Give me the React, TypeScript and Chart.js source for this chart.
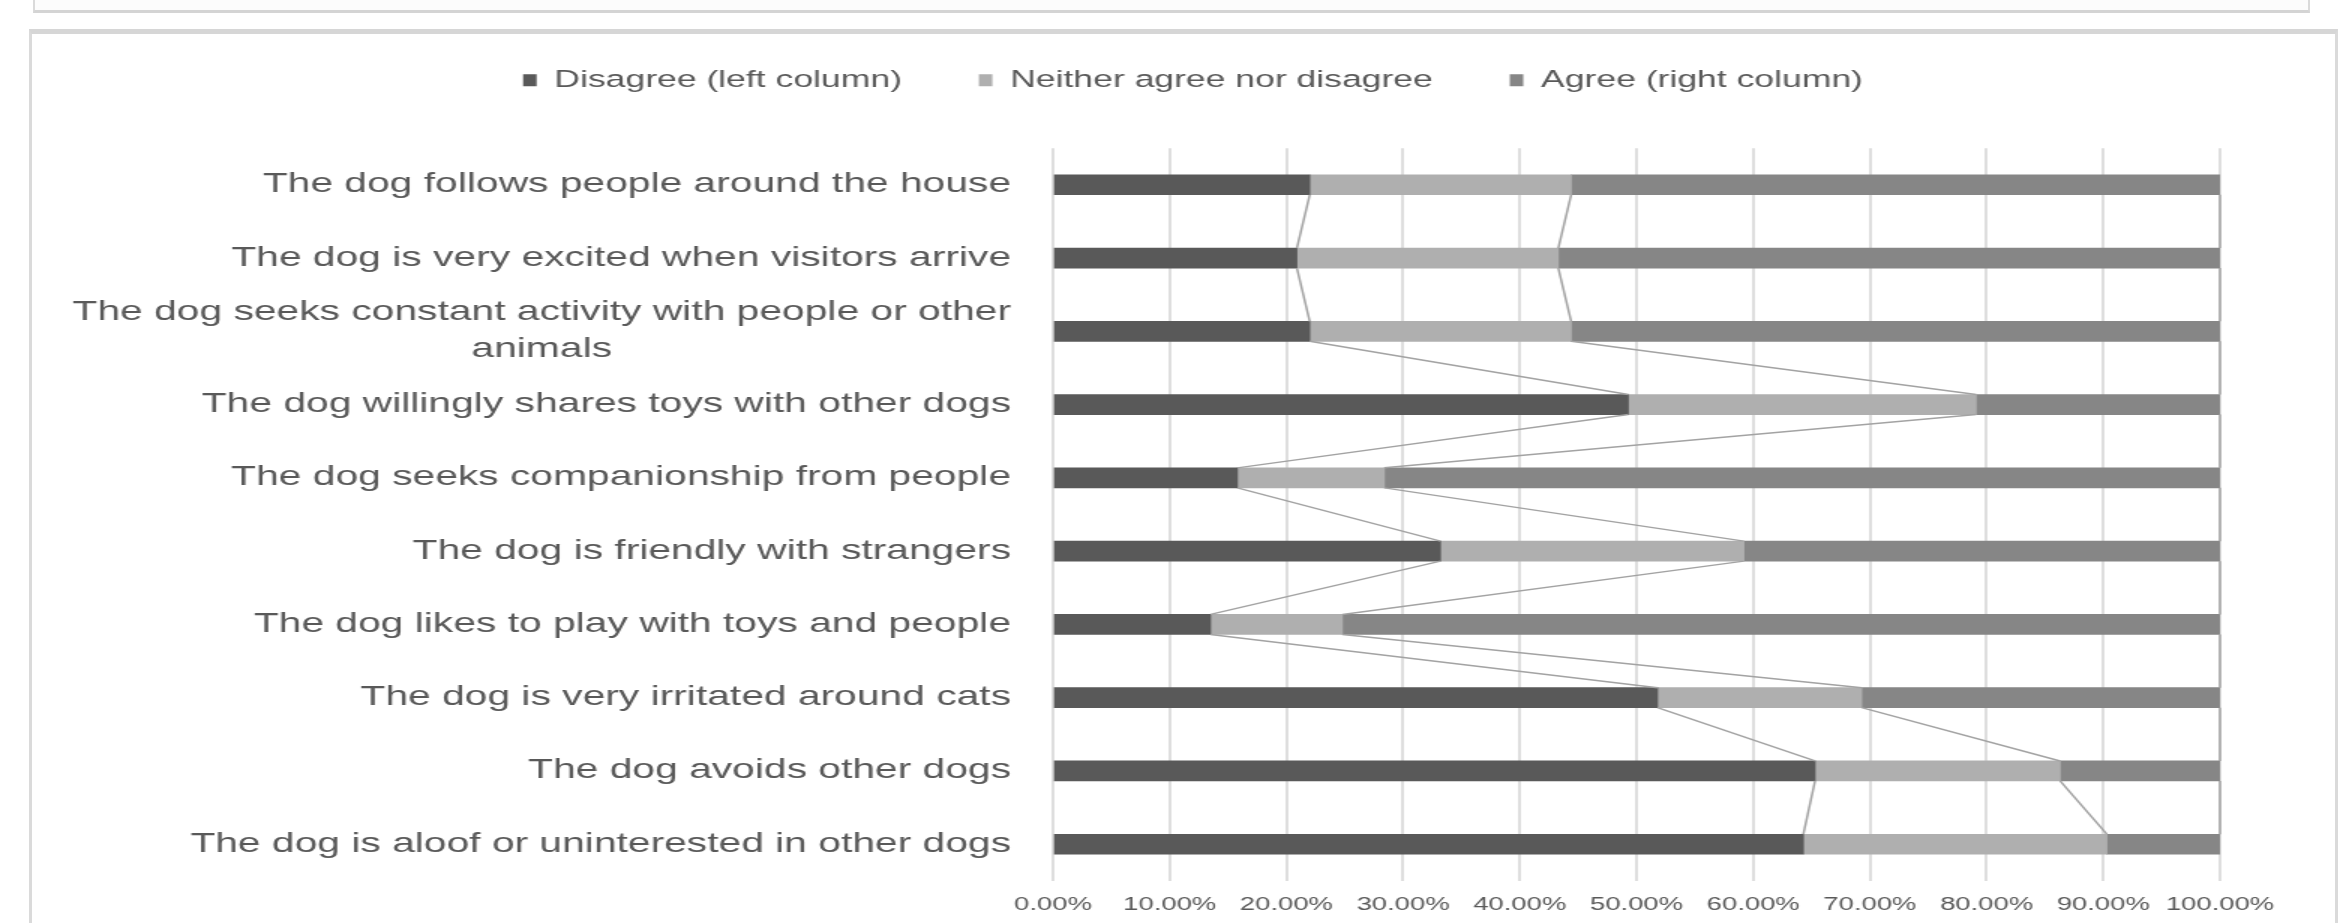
import React, { useEffect, useRef } from 'react';
import { Chart, registerables } from 'chart.js';

Chart.register(...registerables);

// ---- data ----
const categories: (string | string[])[] = [
  'The dog follows people around the house',
  'The dog is very excited when visitors arrive',
  ['The dog seeks constant activity with people or other', 'animals'],
  'The dog willingly shares toys with other dogs',
  'The dog seeks companionship from people',
  'The dog is friendly with strangers',
  'The dog likes to play with toys and people',
  'The dog is very irritated around cats',
  'The dog avoids other dogs',
  'The dog is aloof or uninterested in other dogs',
];

const seriesNames = ['Disagree (left column)', 'Neither agree nor disagree', 'Agree (right column)'];

const disagree = [22.0, 20.9, 22.0, 49.3, 15.8, 33.2, 13.5, 51.8, 65.3, 64.3];
const neither = [22.4, 22.4, 22.4, 29.8, 12.6, 26.0, 11.3, 17.5, 21.0, 26.0];
const agree = [55.6, 56.7, 55.6, 20.9, 71.6, 40.8, 75.2, 30.7, 13.7, 9.7];

const xTickLabels = ['0.00%', '10.00%', '20.00%', '30.00%', '40.00%', '50.00%', '60.00%', '70.00%', '80.00%', '90.00%', '100.00%'];

const seriesColors = ['#595959', '#afafaf', '#868686'];

// ---- layout / style constants ----
const SX = 1.5; // horizontal stretch of the canvas bitmap
const CSS_W = 2340;
const CSS_H = 923;
const CANVAS_H = 934;
const CANVAS_W = Math.round(CSS_W / SX);
const FONT = '"Liberation Sans", Arial, sans-serif';
const TEXT_COLOR = '#595959';
const LABEL_SIZE = 27.2;
const LABEL_LINE_H = 37;
const LABEL_GAP = 28;

const categoryLabelPlugin = {
  id: 'categoryLabels',
  afterDraw(chart: any) {
    const ys = chart.scales.y;
    const area = chart.chartArea;
    const ctx = chart.ctx;
    ctx.save();
    ctx.font = `${LABEL_SIZE}px ${FONT}`;
    ctx.fillStyle = TEXT_COLOR;
    ctx.textAlign = 'center';
    ctx.textBaseline = 'middle';
    categories.forEach((c, i) => {
      const lines = Array.isArray(c) ? c : [c];
      const w = Math.max(...lines.map((l) => ctx.measureText(l).width));
      const cx = area.left - LABEL_GAP - w / 2;
      const y = ys.getPixelForValue(i);
      lines.forEach((l, j) => {
        ctx.fillText(l, cx, y + (j - (lines.length - 1) / 2) * LABEL_LINE_H);
      });
    });
    ctx.restore();
  },
};

const seriesLinePlugin = {
  id: 'seriesLines',
  afterDatasetsDraw(chart: any) {
    const ctx = chart.ctx;
    ctx.save();
    ctx.strokeStyle = '#a3a3a3';
    ctx.lineWidth = 1.5;
    for (let d = 0; d < chart.data.datasets.length; d++) {
      const meta = chart.getDatasetMeta(d);
      for (let i = 0; i < meta.data.length - 1; i++) {
        const a = meta.data[i];
        const b = meta.data[i + 1];
        ctx.beginPath();
        ctx.moveTo(a.x, a.y + a.height / 2);
        ctx.lineTo(b.x, b.y - b.height / 2);
        ctx.stroke();
      }
    }
    ctx.restore();
  },
};

export default function App() {
  const ref = useRef<HTMLCanvasElement>(null);

  useEffect(() => {
    document.body.style.margin = '0';
    const canvas = ref.current!;
    const values = [disagree, neither, agree];
    const chart = new Chart(canvas, {
      type: 'bar',
      data: {
        labels: categories.map((c) => (Array.isArray(c) ? c.join(' ') : c)),
        datasets: seriesNames.map((name, k) => ({
          label: name,
          data: values[k],
          backgroundColor: seriesColors[k],
          borderWidth: 0,
          barThickness: 20,
          xAxisID: 'x',
        })),
      },
      options: {
        indexAxis: 'y',
        responsive: false,
        animation: false,
        devicePixelRatio: 1,
        layout: { padding: { left: 110.7, right: 80, top: 17, bottom: 5.2 } },
        plugins: {
          legend: {
            position: 'top',
            labels: {
              boxWidth: 9,
              boxHeight: 12,
              padding: 51.3,
              color: TEXT_COLOR,
              font: { family: FONT, size: 23.7 },
            },
          },
          tooltip: { enabled: false },
        },
        scales: {
          x: {
            stacked: true,
            min: 0,
            max: 100,
            position: 'bottom',
            grid: { color: '#dedede', lineWidth: 2, drawTicks: false },
            border: { display: false },
            ticks: {
              stepSize: 10,
              padding: 13,
              maxRotation: 0,
              minRotation: 0,
              autoSkip: false,
              color: TEXT_COLOR,
              font: { family: FONT, size: 18.3 },
              callback: (v: any) => xTickLabels[Math.round(Number(v) / 10)] ?? '',
            },
          },
          x2: {
            type: 'linear',
            position: 'top',
            display: true,
            grid: { display: false, drawTicks: false },
            border: { display: false },
            ticks: { display: false },
            afterFit: (s: any) => {
              s.height = 46.15;
            },
          },
          y: {
            stacked: true,
            grid: { display: false, drawTicks: false },
            border: { display: false },
            ticks: { display: false },
            afterFit: (s: any) => {
              s.width = 591.3;
            },
          },
        },
      },
      plugins: [seriesLinePlugin, categoryLabelPlugin],
    } as any);
    return () => chart.destroy();
  }, []);

  return (
    <div style={{ position: 'relative', width: CSS_W, height: CSS_H, overflow: 'hidden', background: '#ffffff' }}>
      <div
        style={{
          position: 'absolute',
          left: 33,
          top: -10,
          width: 2277,
          height: 23,
          boxSizing: 'border-box',
          border: '2px solid #dadada',
          borderBottom: '3px solid #d4d4d4',
          background: '#fcfcfc',
        }}
      />
      <div
        style={{
          position: 'absolute',
          left: 29,
          top: 29,
          width: 2309,
          height: 930,
          boxSizing: 'border-box',
          border: '3px solid #dadada',
          borderTop: '5px solid #d6d6d6',
          background: '#ffffff',
        }}
      />
      <canvas
        ref={ref}
        width={CANVAS_W}
        height={CANVAS_H}
        style={{ position: 'absolute', left: 0, top: 0, width: `${CSS_W}px`, height: `${CANVAS_H}px` }}
      />
    </div>
  );
}
